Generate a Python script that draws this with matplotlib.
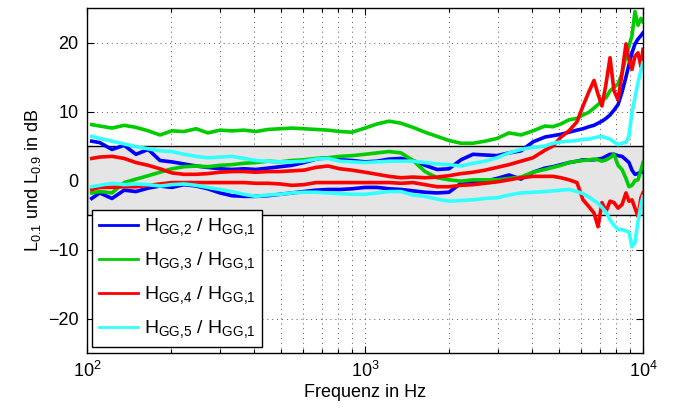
import matplotlib
matplotlib.use("Agg")
import matplotlib.pyplot as plt
from matplotlib.ticker import LogLocator, FixedLocator, NullFormatter

plt.rcParams["font.family"] = ["Liberation Sans", "DejaVu Sans"]
plt.rcParams["mathtext.fontset"] = "custom"
plt.rcParams["mathtext.rm"] = "Liberation Sans"
plt.rcParams["mathtext.it"] = "Liberation Sans:italic"
plt.rcParams["mathtext.default"] = "regular"

# frequency grid (Hz)
freq = [104, 111, 123, 136, 150, 166, 183, 202, 223, 247, 272, 301, 332, 367,
        405, 448, 495, 546, 603, 666, 736, 813, 898, 1000, 1105, 1220, 1348,
        1488, 1644, 1816, 2005, 2215, 2446, 2702, 2984, 3296, 3640, 4021, 4441,
        4746, 5070, 5418, 5788, 6085, 6394, 6664, 6890, 7120, 7362, 7610, 7865,
        8133, 8404, 8685, 8906, 9129, 9358, 9594, 9835, 10000]

# L0.1 (upper) and L0.9 (lower) in dB for each ratio
h2_hi = [5.7, 5.5, 4.5, 5.1, 3.8, 4.5, 2.9, 2.7, 2.4, 2.1, 1.9, 1.7, 1.6, 1.7,
         1.6, 1.8, 2.0, 2.2, 2.6, 3.1, 3.3, 3.0, 2.9, 2.7, 2.8, 3.1, 3.2, 2.9,
         2.2, 1.6, 1.7, 3.0, 3.8, 3.7, 3.6, 4.0, 4.3, 5.6, 6.3, 6.5, 6.7, 7.0,
         7.3, 7.5, 7.8, 8.0, 8.3, 8.6, 9.0, 9.5, 10.2, 11.0, 12.8, 15.0, 16.8,
         18.5, 19.8, 20.5, 21.0, 21.4]
h2_lo = [-2.6, -1.8, -2.6, -1.4, -1.6, -1.1, -0.8, -1.0, -0.6, -0.8, -1.2, -1.8,
         -2.2, -2.3, -2.3, -2.2, -2.0, -1.8, -1.6, -1.4, -1.3, -1.3, -1.2, -1.0,
         -1.0, -1.2, -1.3, -1.5, -1.7, -1.8, -1.7, -0.4, -0.2, -0.1, 0.3, 0.8,
         0.2, 1.2, 1.8, 2.0, 2.3, 2.6, 2.8, 3.0, 3.0, 3.0, 3.1, 3.2, 3.5, 3.8,
         3.8, 3.6, 3.5, 3.0, 2.6, 1.5, 0.9, 1.0, 1.3, 1.2]
h3_hi = [8.1, 7.9, 7.6, 8.0, 7.7, 7.2, 6.6, 7.2, 7.1, 7.5, 6.9, 7.3, 7.2, 7.3,
         7.1, 7.4, 7.5, 7.6, 7.5, 7.4, 7.3, 7.1, 7.0, 7.6, 8.2, 8.6, 8.3, 7.7,
         7.0, 6.4, 5.8, 5.4, 5.4, 5.7, 6.1, 6.9, 6.6, 7.2, 7.9, 7.8, 8.2, 8.8,
         9.0, 9.5, 9.9, 10.5, 11.0, 11.6, 12.0, 13.0, 13.5, 14.0, 15.5, 18.0,
         19.5, 21.0, 24.5, 22.5, 23.5, 23.0]
h3_lo = [-1.8, -1.6, -1.8, -0.3, 0.2, 0.7, 1.2, 1.7, 2.0, 2.1, 2.0, 2.2, 2.3,
         2.5, 2.6, 2.8, 2.7, 2.9, 3.0, 3.2, 3.3, 3.5, 3.6, 3.8, 4.0, 4.2, 4.0,
         2.9, 1.3, 0.4, 0.1, -0.1, 0.1, 0.1, 0.1, 0.3, 0.5, 1.2, 1.6, 1.9, 2.2,
         2.6, 2.8, 2.9, 3.0, 3.1, 3.0, 2.8, 3.0, 3.3, 3.8, 2.2, 1.6, 0.3, -0.9,
         -0.7, 0.0, 0.1, 1.5, 2.6]
h4_hi = [3.2, 3.4, 3.5, 3.2, 2.6, 2.2, 1.7, 1.1, 0.9, 0.9, 1.0, 1.2, 1.3, 1.3,
         1.2, 1.3, 1.3, 1.4, 1.5, 1.9, 2.1, 1.7, 1.5, 1.2, 0.9, 0.6, 0.4, 0.5,
         0.4, 0.5, 0.7, 1.0, 1.2, 1.5, 1.9, 2.3, 2.8, 3.3, 4.4, 5.0, 6.3, 7.2,
         8.5, 10.8, 12.9, 14.5, 12.5, 10.8, 14.0, 17.8, 13.0, 11.7, 15.5, 19.8,
         17.5, 16.1, 18.0, 18.5, 16.5, 19.0]
h4_lo = [-1.3, -1.0, -1.0, -0.9, -0.9, -0.7, -0.5, -0.3, -0.3, -0.3, -0.3, -0.3,
         -0.3, -0.3, -0.4, -0.4, -0.5, -0.7, -0.6, -0.3, -0.3, -0.3, -0.3, -0.3,
         -0.3, -0.3, -0.4, -0.3, -0.6, -0.9, -0.9, -0.7, -0.6, -0.4, -0.2, 0.1,
         0.4, 0.6, 0.6, 0.6, 0.4, 0.1, -0.3, -2.8, -3.8, -4.7, -6.7, -3.2, -4.5,
         -3.0, -3.2, -4.0, -3.5, -1.8, -3.0, -2.8, -4.0, -5.2, -2.5, -1.8]
h5_hi = [6.4, 6.1, 5.7, 5.3, 4.9, 4.6, 4.3, 4.2, 3.8, 3.5, 3.3, 3.4, 3.5, 3.2,
         2.9, 2.8, 2.7, 2.7, 2.8, 3.1, 3.2, 2.8, 2.7, 2.6, 2.7, 2.8, 2.8, 2.8,
         2.6, 2.4, 2.3, 2.1, 2.5, 2.8, 3.3, 4.0, 4.5, 4.8, 5.0, 5.4, 5.6, 5.7,
         5.8, 6.0, 6.0, 6.2, 6.3, 6.4, 6.2, 6.0, 5.6, 5.2, 5.4, 5.5, 6.5, 9.9,
         12.0, 14.2, 16.0, 17.1]
h5_lo = [-0.9, -0.7, -0.4, -0.6, -0.5, -0.6, -0.8, -0.6, -0.5, -0.7, -1.0, -1.3,
         -1.6, -2.0, -2.3, -2.1, -2.0, -1.8, -1.7, -1.7, -1.8, -1.9, -2.0, -2.0,
         -1.8, -1.6, -1.6, -2.1, -2.3, -2.7, -3.0, -2.9, -2.8, -2.6, -2.5, -2.1,
         -1.8, -1.7, -1.6, -1.5, -1.4, -1.3, -1.6, -1.9, -2.4, -2.9, -3.3, -3.9,
         -4.6, -5.7, -6.5, -7.1, -7.1, -7.3, -7.5, -9.6, -9.0, -6.0, -3.5, -2.3]

labels = [r"$H_{GG{,}2}$ / $H_{GG{,}1}$", r"$H_{GG{,}3}$ / $H_{GG{,}1}$",
          r"$H_{GG{,}4}$ / $H_{GG{,}1}$", r"$H_{GG{,}5}$ / $H_{GG{,}1}$"]
colors = ["#0000ff", "#00cc00", "#ff0000", "#33ffff"]
series = [(h2_hi, h2_lo), (h3_hi, h3_lo), (h4_hi, h4_lo), (h5_hi, h5_lo)]

fig = plt.figure(figsize=(6.73, 4.09), dpi=100)
ax = fig.add_axes([0.1293, 0.1369, 0.8261, 0.8435])

# tolerance band +-5 dB
ax.axhspan(-5, 5, facecolor="#e5e5e5", edgecolor="k", lw=1.0, zorder=1)

handles = []
for (hi, lo), c, lab in zip(series, colors, labels):
    ax.plot(freq, hi, color=c, lw=2.6, zorder=2)
    ax.plot(freq, lo, color=c, lw=2.6, zorder=2)
    h, = ax.plot([], [], color=c, lw=2.0, label=lab)
    handles.append(h)

ax.set_xscale("log")
ax.set_xlim(100, 10000)
ax.set_ylim(-25, 25)
ax.yaxis.set_major_locator(FixedLocator([-20, -10, 0, 10, 20]))
ax.xaxis.set_minor_locator(LogLocator(base=10, subs=range(2, 10)))
ax.xaxis.set_minor_formatter(NullFormatter())

ax.set_axisbelow(True)
ax.grid(True, which="both", axis="x", ls=(0, (1, 4)), color="#555555", lw=0.7)
ax.grid(True, which="major", axis="y", ls=(0, (1, 4)), color="#555555", lw=0.7)

ax.tick_params(which="both", direction="in", top=True, right=True,
               labelsize=13, width=0.8)
ax.tick_params(which="major", length=5, pad=6)
ax.tick_params(which="minor", length=3)
for s in ax.spines.values():
    s.set_linewidth(1.0)
    s.set_zorder(3)

ax.set_xlabel("Frequenz in Hz", fontsize=13, labelpad=2)
ax.set_ylabel(r"$L_{0.1}$ und $L_{0.9}$ in dB", fontsize=13, labelpad=4)

leg = ax.legend(handles=handles, loc="lower left", bbox_to_anchor=(0.009, 0.017),
                borderaxespad=0, fancybox=False, framealpha=1, edgecolor="k",
                fontsize=14, handlelength=2.0, handletextpad=0.3,
                labelspacing=0.62, borderpad=0.35)
leg.get_frame().set_linewidth(1.0)
leg.set_zorder(5)

fig.savefig("out.png", dpi=100)
